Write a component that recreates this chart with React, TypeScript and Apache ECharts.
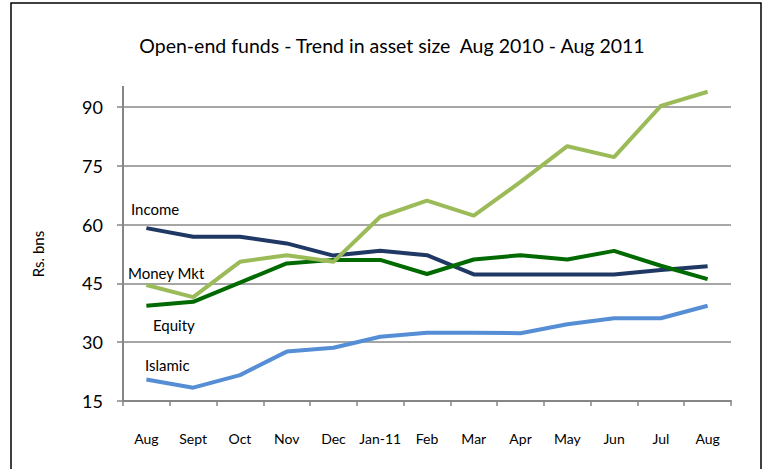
import React, { useEffect, useRef } from "react";
import * as echarts from "echarts";

const categories = ["Aug", "Sept", "Oct", "Nov", "Dec", "Jan-11", "Feb", "Mar", "Apr", "May", "Jun", "Jul", "Aug"];
const income = [59.1, 56.9, 56.9, 55.2, 52.1, 53.3, 52.2, 47.3, 47.3, 47.3, 47.3, 48.4, 49.4];
const moneyMkt = [44.6, 41.5, 50.5, 52.2, 50.5, 62.0, 66.1, 62.3, 70.9, 80.0, 77.2, 90.3, 93.9];
const equity = [39.3, 40.3, 45.2, 50.1, 51.0, 51.0, 47.4, 51.1, 52.2, 51.1, 53.3, 49.5, 46.1];
const islamic = [20.5, 18.4, 21.6, 27.6, 28.6, 31.4, 32.4, 32.4, 32.3, 34.6, 36.1, 36.1, 39.3];
const yTicks = { min: 15, max: 90, interval: 15 };

const FONT = "Lato, 'Noto Sans', sans-serif";

export default function App() {
  const ref = useRef<HTMLDivElement>(null);
  useEffect(() => {
    if (!ref.current) return;
    const chart = echarts.init(ref.current, null, { renderer: "svg" });
    const mkLine = (name: string, data: number[], color: string) => ({
      name,
      type: "line",
      data,
      clip: false,
      symbol: "none",
      lineStyle: { color, width: 4 },
      itemStyle: { color },
    });
    chart.setOption({
      animation: false,
      backgroundColor: "#ffffff",
      textStyle: { fontFamily: FONT },
      title: {
        text: "Open-end funds - Trend in asset size  Aug 2010 - Aug 2011",
        left: 387,
        top: 30,
        textAlign: "center",
        textStyle: { fontFamily: FONT, fontSize: 19.5, fontWeight: "normal", color: "#000" },
      },
      grid: { left: 123, right: 31, top: 107, bottom: 68 },
      xAxis: {
        type: "category",
        data: categories,
        boundaryGap: true,
        axisLine: { lineStyle: { color: "#868686", width: 2 } },
        axisTick: { show: true, length: 5, lineStyle: { color: "#868686", width: 1.5 } },
        axisLabel: { color: "#000", fontSize: 14, margin: 30, fontFamily: FONT, interval: 0 },
      },
      yAxis: {
        type: "value",
        min: yTicks.min,
        max: yTicks.max,
        interval: yTicks.interval,
        name: "Rs. bns",
        nameLocation: "middle",
        nameGap: 78,
        nameRotate: 90,
        nameTextStyle: { color: "#000", fontSize: 15, fontFamily: FONT },
        axisLine: { show: false },
        axisTick: { show: true, length: 6, lineStyle: { color: "#868686", width: 1.5 } },
        axisLabel: { color: "#000", fontSize: 18, margin: 20, fontFamily: FONT },
        splitLine: { lineStyle: { color: "#898989", width: 1.5 } },
      },
      graphic: [
        { type: "rect", shape: { x: 11, y: 3, width: 750, height: 480 }, style: { fill: "none", stroke: "#000", lineWidth: 1.5 }, silent: true },
        { type: "line", shape: { x1: 123, y1: 86, x2: 123, y2: 402 }, style: { stroke: "#868686", lineWidth: 2 }, silent: true },
        { type: "text", left: 131, top: 201, style: { text: "Income", fontSize: 15, fontFamily: FONT, fill: "#000" } },
        { type: "text", left: 128, top: 265, style: { text: "Money Mkt", fontSize: 15, fontFamily: FONT, fill: "#000" } },
        { type: "text", left: 153, top: 317, style: { text: "Equity", fontSize: 15, fontFamily: FONT, fill: "#000" } },
        { type: "text", left: 145, top: 357, style: { text: "Islamic", fontSize: 15, fontFamily: FONT, fill: "#000" } },
      ],
      series: [
        mkLine("Islamic", islamic, "#558ED5"),
        mkLine("Income", income, "#1F3864"),
        mkLine("Equity", equity, "#006A00"),
        mkLine("Money Mkt", moneyMkt, "#9BBB59"),
      ],
    });
    return () => chart.dispose();
  }, []);
  return <div ref={ref} style={{ position: "absolute", left: 0, top: 0, width: 762, height: 469 }} />;
}
